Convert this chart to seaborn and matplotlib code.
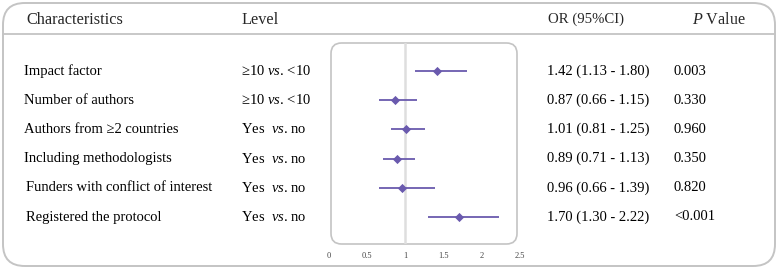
import numpy as np
import pandas as pd
import seaborn as sns
import matplotlib
matplotlib.use("Agg")
import matplotlib.pyplot as plt
from matplotlib.patches import FancyBboxPatch
from matplotlib.transforms import blended_transform_factory

characteristics = ["Impact factor", "Number of authors", "Authors from \u22652 countries",
                   "Including methodologists", "Funders with conflict of interest",
                   "Registered the protocol"]
levels = ["\u226510 $\\mathit{vs}$. <10", "\u226510 $\\mathit{vs}$. <10",
          "Yes  $\\mathit{vs}$. no", "Yes  $\\mathit{vs}$. no",
          "Yes  $\\mathit{vs}$. no", "Yes  $\\mathit{vs}$. no"]
or_values = [1.42, 0.87, 1.01, 0.89, 0.96, 1.70]
ci_low = [1.13, 0.66, 0.81, 0.71, 0.66, 1.30]
ci_high = [1.80, 1.15, 1.25, 1.13, 1.39, 2.22]
or_labels = ["1.42 (1.13 - 1.80)", "0.87 (0.66 - 1.15)", "1.01 (0.81 - 1.25)",
             "0.89 (0.71 - 1.13)", "0.96 (0.66 - 1.39)", "1.70 (1.30 - 2.22)"]
p_labels = ["0.003", "0.330", "0.960", "0.350", "0.820", "<0.001"]
x_ticks = [0, 0.5, 1, 1.5, 2, 2.5]
x_tick_labels = ["0", "0.5", "1", "1.5", "2", "2.5"]

sns.set_theme(style="white")
plt.rcParams["font.family"] = ["Liberation Serif", "DejaVu Serif"]
plt.rcParams["mathtext.fontset"] = "custom"
plt.rcParams["mathtext.rm"] = "Liberation Serif"
plt.rcParams["mathtext.it"] = "Liberation Serif:italic"

W, H = 778, 269
fig = plt.figure(figsize=(W / 100, H / 100), dpi=100)

def fx(px):
    return px / W

def fy(py):
    return 1 - py / H

# outer rounded frame
outer = FancyBboxPatch((fx(3), fy(266)), fx(772), (263) / H,
                       boxstyle="round,pad=0,rounding_size=0.028",
                       transform=fig.transFigure, facecolor="none",
                       edgecolor="#c4c4c4", linewidth=1.4, mutation_aspect=W / H,
                       zorder=-5)
fig.patches.append(outer)
fig.add_artist(plt.Line2D([fx(3), fx(775)], [fy(34), fy(34)], transform=fig.transFigure,
                          color="#c8c8c8", linewidth=1.4, zorder=-5))

# forest axes: x from px 329 (0) to 520 (2.5); y from px 43 to 244
ax = fig.add_axes([fx(329), fy(244), fx(520 - 329), (244 - 43) / H])
ax.set_facecolor("none")
n = len(or_values)
row_px = 29.2
ax.set_xlim(0, 2.5)
ax.set_ylim(5 + (244 - 217) / row_px, -(71 - 43) / row_px)
for s in ax.spines.values():
    s.set_visible(False)

box = FancyBboxPatch((2 / 191, 0.0), (517 - 331) / 191, 1.0,
                     boxstyle="round,pad=0,rounding_size=0.055",
                     transform=ax.transAxes, facecolor="none",
                     edgecolor="#c4c4c4", linewidth=1.2, mutation_aspect=191 / 201,
                     clip_on=False)
ax.add_patch(box)
ax.axvline(1, color="#dedede", linewidth=1.8, zorder=1)

df = pd.DataFrame({"row": np.arange(n), "or": or_values, "lo": ci_low, "hi": ci_high})
purple = "#6a5aae"
ax.hlines(df["row"], df["lo"], df["hi"], color=purple, linewidth=1.3, zorder=2)
sns.scatterplot(data=df, x="or", y="row", marker="D", s=22, color=purple,
                edgecolor=purple, linewidth=0, ax=ax, zorder=3, legend=False)
ax.set_xlabel("")
ax.set_ylabel("")
ax.set_yticks([])
ax.set_xticks(x_ticks)
ax.set_xticklabels(x_tick_labels, fontsize=6, color="#444444")
ax.tick_params(axis="x", length=0, pad=6)

tr = blended_transform_factory(fig.transFigure, ax.transData)
fs = 10.5
for i in range(n):
    cx = 26 if i >= 4 else 24
    fig.text(fx(cx), i, characteristics[i], transform=tr, ha="left", va="center", fontsize=fs, color="black")
    fig.text(fx(241), i, levels[i], transform=tr, ha="left", va="center", fontsize=fs, color="black")
    fig.text(fx(547), i, or_labels[i], transform=tr, ha="left", va="center", fontsize=fs, color="black")
    fig.text(fx(674), i, p_labels[i], transform=tr, ha="left", va="center", fontsize=fs, color="black")

hy = fy(19.5)
fig.text(fx(26), hy, "Characteristics", ha="left", va="center", fontsize=11.7)
fig.text(fx(241), hy, "Level", ha="left", va="center", fontsize=11.7)
fig.text(fx(548), hy, "OR (95%CI)", ha="left", va="center", fontsize=10.6)
fig.text(fx(692), hy, "$\\mathit{P}$ Value", ha="left", va="center", fontsize=11.6)

fig.savefig("out.png", dpi=100)
